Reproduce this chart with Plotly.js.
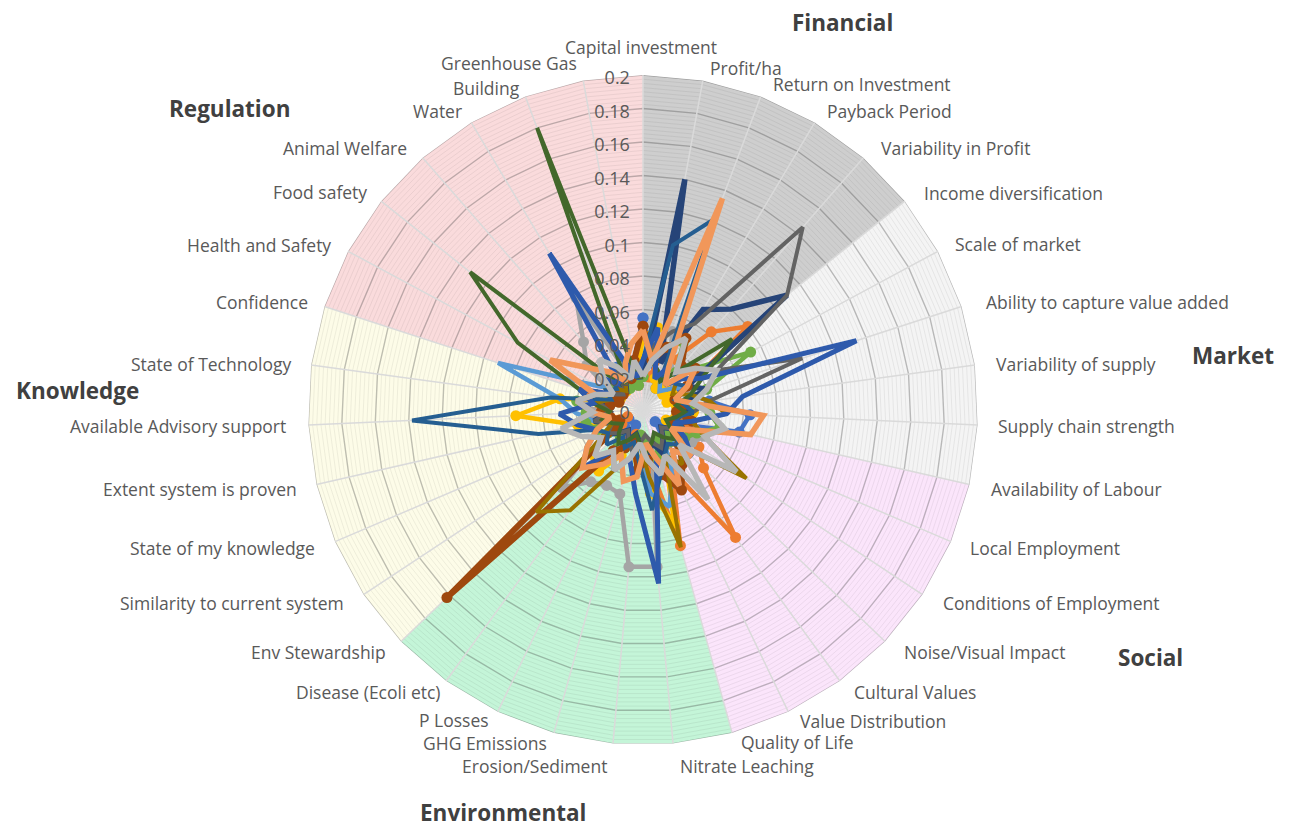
<!DOCTYPE html>
<html><head><meta charset="utf-8">
<script src="https://cdn.plot.ly/plotly-3.0.1.min.js"></script>
<style>html,body{margin:0;padding:0;background:#fff;} #chart{width:1290px;height:829px;}</style>
</head><body><div id="chart"></div>
<script>
const categories = ['Capital investment','Profit/ha','Return on Investment','Payback Period','Variability in Profit','Income diversification','Scale of market','Ability to capture value added','Variability of supply','Supply chain strength','Availability of Labour','Local Employment','Conditions of Employment','Noise/Visual Impact','Cultural Values','Value Distribution','Quality of Life','Nitrate Leaching','Erosion/Sediment','GHG Emissions','P Losses','Disease (Ecoli etc)','Env Stewardship','Similarity to current system','State of my knowledge','Extent system is proven','Available Advisory support','State of Technology','Confidence','Health and Safety','Food safety','Animal Welfare','Water','Building','Greenhouse Gas'];

const sectionNames = ['Financial','Market','Social','Environmental','Knowledge','Regulation'];
const sectionFirst = [0,5,10,16,22,28];
const sectionLast = [5,10,16,22,28,35];
const sectionFill = ['#cecece','#f4f4f4','#fbe5fb','#c4f5d8','#fdfce8','#fadbdc'];

const radialTicks = [0,0.02,0.04,0.06,0.08,0.1,0.12,0.14,0.16,0.18,0.2];
const radialTickText = ['0','0.02','0.04','0.06','0.08','0.1','0.12','0.14','0.16','0.18','0.2'];
const radialMax = 0.2;
const minorStep = 0.0025;

const s01 = [0.055,0.03,0.02,0.015,0.02,0.02,0.025,0.03,0.04,0.064,0.059,0.02,0.015,0.01,0.02,0.025,0.03,0.04,0.02,0.015,0.01,0.02,0.015,0.01,0.02,0.03,0.025,0.02,0.03,0.02,0.015,0.02,0.03,0.025,0.03];
const s02 = [0.03,0.02,0.04,0.035,0.062,0.08,0.03,0.02,0.025,0.03,0.02,0.03,0.04,0.05,0.094,0.04,0.084,0.03,0.02,0.015,0.02,0.025,0.02,0.015,0.01,0.02,0.03,0.025,0.035,0.02,0.015,0.02,0.025,0.02,0.015];
const s03 = [0.03,0.04,0.05,0.03,0.02,0.025,0.02,0.03,0.02,0.025,0.03,0.04,0.035,0.03,0.04,0.03,0.02,0.094,0.094,0.052,0.05,0.053,0.067,0.03,0.02,0.025,0.03,0.035,0.03,0.02,0.043,0.054,0.078,0.02,0.015];
const s04 = [0.044,0.05,0.02,0.015,0.02,0.015,0.02,0.015,0.02,0.03,0.02,0.015,0.02,0.03,0.025,0.03,0.07,0.05,0.03,0.02,0.03,0.045,0.04,0.03,0.02,0.04,0.076,0.05,0.02,0.015,0.02,0.015,0.02,0.025,0.02];
const s05 = [0.02,0.03,0.025,0.02,0.015,0.02,0.03,0.02,0.025,0.02,0.03,0.02,0.025,0.03,0.02,0.04,0.06,0.05,0.02,0.015,0.02,0.025,0.02,0.03,0.02,0.03,0.04,0.05,0.091,0.03,0.02,0.015,0.02,0.025,0.02];
const s06 = [0.02,0.035,0.04,0.047,0.03,0.04,0.073,0.04,0.03,0.04,0.047,0.035,0.03,0.02,0.025,0.02,0.03,0.02,0.015,0.02,0.025,0.03,0.02,0.025,0.03,0.035,0.034,0.04,0.03,0.02,0.025,0.02,0.015,0.02,0.015];
const s07 = [0.02,0.14,0.03,0.07,0.08,0.11,0.03,0.04,0.02,0.03,0.02,0.025,0.02,0.015,0.02,0.03,0.02,0.03,0.02,0.015,0.02,0.015,0.02,0.025,0.02,0.03,0.02,0.025,0.02,0.015,0.02,0.015,0.02,0.03,0.02];
const s08 = [0.05,0.03,0.04,0.05,0.035,0.04,0.03,0.02,0.025,0.02,0.03,0.02,0.025,0.03,0.04,0.053,0.04,0.03,0.036,0.02,0.025,0.03,0.162,0.02,0.015,0.02,0.025,0.02,0.015,0.02,0.015,0.02,0.025,0.02,0.03];
const s09 = [0.03,0.04,0.05,0.06,0.145,0.11,0.05,0.1,0.04,0.03,0.02,0.025,0.02,0.015,0.02,0.025,0.02,0.015,0.02,0.025,0.02,0.015,0.02,0.025,0.02,0.03,0.02,0.025,0.03,0.02,0.015,0.02,0.03,0.02,0.025];
const s10 = [0.02,0.03,0.025,0.02,0.03,0.025,0.02,0.03,0.04,0.05,0.03,0.04,0.074,0.03,0.04,0.03,0.085,0.04,0.02,0.03,0.04,0.074,0.088,0.03,0.02,0.025,0.02,0.03,0.02,0.025,0.02,0.015,0.02,0.03,0.02];
const s11 = [0.03,0.10,0.122,0.02,0.03,0.025,0.03,0.02,0.025,0.03,0.02,0.025,0.02,0.03,0.025,0.03,0.04,0.06,0.03,0.02,0.025,0.02,0.03,0.025,0.03,0.064,0.138,0.056,0.02,0.025,0.02,0.03,0.02,0.025,0.02];
const s12 = [0.02,0.03,0.025,0.02,0.03,0.068,0.04,0.03,0.02,0.025,0.02,0.015,0.02,0.025,0.02,0.015,0.02,0.025,0.02,0.015,0.02,0.025,0.02,0.015,0.02,0.025,0.02,0.03,0.04,0.085,0.132,0.02,0.02,0.18,0.02];
const s13 = [0.03,0.05,0.02,0.03,0.02,0.03,0.04,0.134,0.06,0.05,0.03,0.02,0.03,0.04,0.03,0.05,0.03,0.104,0.05,0.03,0.04,0.03,0.05,0.04,0.03,0.04,0.05,0.03,0.04,0.02,0.03,0.02,0.109,0.03,0.02];
const s14 = [0.048,0.03,0.135,0.03,0.02,0.04,0.03,0.02,0.03,0.072,0.066,0.03,0.02,0.04,0.03,0.05,0.03,0.02,0.04,0.044,0.03,0.04,0.05,0.04,0.03,0.02,0.03,0.04,0.03,0.063,0.04,0.03,0.02,0.03,0.04];
const s15 = [0.02,0.03,0.04,0.05,0.03,0.04,0.05,0.04,0.03,0.04,0.05,0.04,0.067,0.03,0.066,0.03,0.04,0.03,0.02,0.03,0.04,0.03,0.04,0.03,0.04,0.05,0.03,0.04,0.03,0.02,0.03,0.04,0.03,0.02,0.03];

const seriesValues = [s01,s02,s03,s04,s05,s06,s07,s08,s09,s10,s11,s12,s13,s14,s15];
const seriesColors = ['#4472C4','#ED7D31','#A5A5A5','#FFC000','#5B9BD5','#70AD47','#264478','#9E480E','#636363','#997300','#255E91','#43682B','#2E5AAC','#F1975A','#B7B7B7'];
const seriesMarkers = [true,true,true,true,false,true,false,true,false,false,false,false,false,false,false];
const seriesWidths = [4.5,4.5,4.5,4.5,4.5,4.5,5.5,6,4,4,4,4,5,5.5,5.5];

// label placement (pixels in the 1290x829 page)
const labelPos = [[641,47],[746,68],[862,84],[889,111],[955,148],[1013,193],[1018,244],[1107,302],[1076,364],[1086,426],[1076,489],[1045,548],[1051,603],[984,652],[915,692],[873,721],[797,742],[747,766],[534,766],[485,743],[454,720],[368,692],[318,652],[232,603],[222,548],[200,489],[178,426],[211,364],[262,302],[259,245],[320,192],[345,148],[437,111],[486,88],[509,63]];
const titlePos = [[842,22],[1233,355],[1150,657],[503,812],[77,390],[229,108]];

const traces = [];
for (let s = 0; s < sectionNames.length; s++) {
  const th = [categories[sectionFirst[s]]];
  const rr = [0];
  for (let i = sectionFirst[s]; i <= sectionLast[s]; i++) { th.push(categories[i % categories.length]); rr.push(radialMax); }
  th.push(categories[sectionFirst[s]]); rr.push(0);
  traces.push({type:'scatterpolar', mode:'lines', r:rr, theta:th, fill:'toself', fillcolor:sectionFill[s], line:{width:0, color:sectionFill[s]}, hoverinfo:'skip', showlegend:false});
}
function ringTrace(major) {
  const th = [], rr = [];
  const n = Math.round(radialMax / minorStep);
  for (let k = 1; k <= n; k++) {
    const isMajor = (k % 8 === 0);
    if (isMajor !== major) continue;
    for (let i = 0; i <= categories.length; i++) { th.push(categories[i % categories.length]); rr.push(k * minorStep); }
    th.push(categories[0]); rr.push(null);
  }
  return {type:'scatterpolar', mode:'lines', r:rr, theta:th, connectgaps:false,
    line:{width: major ? 1.4 : 0.9, color: major ? 'rgba(60,60,60,0.32)' : 'rgba(60,60,60,0.09)'}, hoverinfo:'skip', showlegend:false};
}
traces.push(ringTrace(false));
traces.push(ringTrace(true));
(function(){
  const th = [], rr = [];
  categories.forEach(c => { th.push(c, c, c); rr.push(0, radialMax, null); });
  traces.push({type:'scatterpolar', mode:'lines', r:rr, theta:th, connectgaps:false, line:{width:1.5, color:'#dadada'}, hoverinfo:'skip', showlegend:false});
})();
seriesValues.forEach((vals, j) => {
  traces.push({type:'scatterpolar', mode: seriesMarkers[j] ? 'lines+markers' : 'lines',
    r: vals.concat([vals[0]]), theta: categories.concat([categories[0]]),
    line:{color:seriesColors[j], width:seriesWidths[j]},
    marker:{color:seriesColors[j], size:11},
    hoverinfo:'skip', showlegend:false});
});

const annotations = sectionNames.map((n, i) => ({text:'<b>'+n+'</b>', xref:'paper', yref:'paper',
  x: titlePos[i][0]/1290, y: 1 - titlePos[i][1]/829, xanchor:'center', yanchor:'middle', showarrow:false,
  font:{family:'Open Sans, sans-serif', size:22.5, color:'#404040'}}));
categories.forEach((c, i) => annotations.push({text:c, xref:'paper', yref:'paper',
  x: labelPos[i][0]/1290, y: 1 - labelPos[i][1]/829, xanchor:'center', yanchor:'middle', showarrow:false,
  font:{family:'Open Sans, sans-serif', size:17.5, color:'#595959'}}));

const layout = {
  width:1290, height:829, margin:{l:0,r:0,t:0,b:0}, paper_bgcolor:'#ffffff', showlegend:false, hovermode:false,
  font:{family:'Open Sans, sans-serif', color:'#595959'},
  annotations: annotations,
  polar:{
    domain:{x:[0.2388,0.7581], y:[0.1013,0.9095]},
    bgcolor:'rgba(0,0,0,0)', gridshape:'linear',
    angularaxis:{type:'category', categoryorder:'array', categoryarray:categories, direction:'clockwise', rotation:90,
      showgrid:false, showline:false, ticks:'', showticklabels:false},
    radialaxis:{range:[0,radialMax], angle:90, side:'counterclockwise', tickmode:'array', tickvals:radialTicks, ticktext:radialTickText,
      showgrid:false, showline:false, ticks:'', tickfont:{size:18, color:'#595959'}, layer:'above traces'}
  }
};
Plotly.newPlot('chart', traces, layout, {staticPlot:true});
</script></body></html>
